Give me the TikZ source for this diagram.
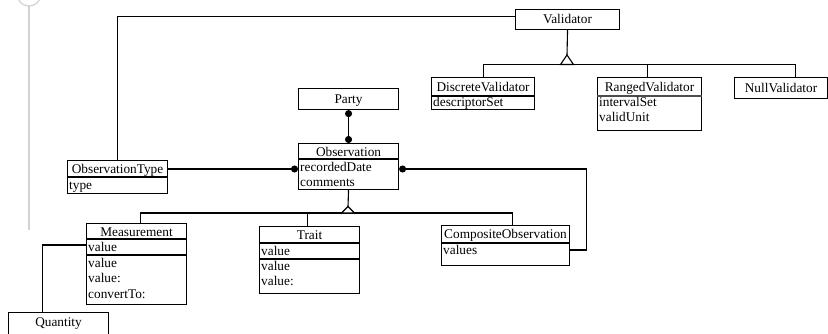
\documentclass[tikz,border=0pt]{standalone}
\usepackage{fontspec}
\setmainfont{Liberation Serif}
\usetikzlibrary{arrows.meta}
\begin{document}
\begin{tikzpicture}[x=1pt,y=-1pt,
  box/.style={draw, line width=1.1pt, fill=white, inner sep=0pt, anchor=north west},
  lbl/.style={inner sep=0pt, font=\rmfamily\fontsize{13.3}{15}\selectfont, text height=9pt, text depth=1pt},
  attr/.style={lbl, anchor=west},
  sep/.style={draw, line width=1.1pt},
  conn/.style={draw, line width=1.1pt},
  dot/.tip={Circle[length=7pt,width=7pt]},
  tri/.style={draw, line width=1.1pt, fill=white}]
\useasboundingbox (0,0) rectangle (828,333);
% decorative gray margin mark
\draw[gray!35, line width=1.2pt] (29,-6) circle (12);
\draw[gray!35, line width=1.5pt] (29,6) -- (29,230);

% ---- boxes ----
\node[box, minimum width=104pt, minimum height=20pt] (validator) at (515,9) {};
\node[lbl] at (validator.center) {Validator};

\node[box, minimum width=103pt, minimum height=32pt] (discrete) at (431,77) {};
\node[lbl] at ([yshift=-10pt]discrete.north) {DiscreteValidator};
\draw[sep] ([yshift=-19pt]discrete.north west) -- ([yshift=-19pt]discrete.north east);
\node[attr] at ([xshift=2pt,yshift=-25pt]discrete.north west) {descriptorSet};

\node[box, minimum width=104pt, minimum height=53pt] (ranged) at (597,77) {};
\node[lbl] at ([yshift=-10pt]ranged.north) {RangedValidator};
\draw[sep, line width=1.4pt, black!70] ([yshift=-19pt]ranged.north west) -- ([yshift=-19pt]ranged.north east);
\node[attr] at ([xshift=2pt,yshift=-25pt]ranged.north west) {intervalSet};
\node[attr] at ([xshift=2pt,yshift=-40pt]ranged.north west) {validUnit};

\node[box, minimum width=93pt, minimum height=21pt] (nullv) at (734,77) {};
\node[lbl] at (nullv.center) {NullValidator};

\node[box, minimum width=100pt, minimum height=21pt] (party) at (298,88) {};
\node[lbl] at (party.center) {Party};

\node[box, minimum width=100pt, minimum height=46pt] (obs) at (298,143) {};
\node[lbl] at ([yshift=-9pt]obs.north) {Observation};
\draw[sep] ([yshift=-16pt]obs.north west) -- ([yshift=-16pt]obs.north east);
\node[attr] at ([xshift=2pt,yshift=-24pt]obs.north west) {recordedDate};
\node[attr] at ([xshift=2pt,yshift=-39pt]obs.north west) {comments};

\node[box, minimum width=100pt, minimum height=33pt] (otype) at (67,160) {};
\node[lbl] at ([yshift=-9pt]otype.north) {ObservationType};
\draw[sep] ([yshift=-17pt]otype.north west) -- ([yshift=-17pt]otype.north east);
\node[attr] at ([xshift=2pt,yshift=-25pt]otype.north west) {type};

\node[box, minimum width=100pt, minimum height=81pt] (meas) at (86,223) {};
\node[lbl] at ([yshift=-9pt]meas.north) {Measurement};
\draw[sep] ([yshift=-16pt]meas.north west) -- ([yshift=-16pt]meas.north east);
\node[attr] at ([xshift=2pt,yshift=-24pt]meas.north west) {value};
\draw[sep] ([yshift=-32pt]meas.north west) -- ([yshift=-32pt]meas.north east);
\node[attr] at ([xshift=2pt,yshift=-40pt]meas.north west) {value};
\node[attr] at ([xshift=2pt,yshift=-55pt]meas.north west) {value:};
\node[attr] at ([xshift=2pt,yshift=-71pt]meas.north west) {convertTo:};

\node[box, minimum width=100pt, minimum height=67pt] (trait) at (259,226) {};
\node[lbl] at ([yshift=-9pt]trait.north) {Trait};
\draw[sep] ([yshift=-17pt]trait.north west) -- ([yshift=-17pt]trait.north east);
\node[attr] at ([xshift=2pt,yshift=-25pt]trait.north west) {value};
\draw[sep] ([yshift=-33pt]trait.north west) -- ([yshift=-33pt]trait.north east);
\node[attr] at ([xshift=2pt,yshift=-40pt]trait.north west) {value};
\node[attr] at ([xshift=2pt,yshift=-55pt]trait.north west) {value:};

\node[box, minimum width=128pt, minimum height=40pt] (comp) at (441,225) {};
\node[lbl] at ([yshift=-9pt]comp.north) {CompositeObservation};
\draw[sep] ([yshift=-18pt]comp.north west) -- ([yshift=-18pt]comp.north east);
\node[attr] at ([xshift=2pt,yshift=-25pt]comp.north west) {values};

\node[box, minimum width=100pt, minimum height=30pt] (qty) at (8,312) {};
\node[lbl] at ([yshift=-10pt]qty.north) {Quantity};

% ---- connectors ----
% ObservationType -- Validator
\draw[conn] (otype.north) |- ([yshift=3pt]validator.west);
% Validator generalisation
\coordinate (vtri) at (567,55);
\coordinate (vbus) at (567,64.5);
\draw[conn] (validator.south) -- (vtri);
\draw[conn] (discrete.north) |- (vbus) -| ([xshift=14pt]nullv.north);
\draw[conn] ([xshift=-2pt]ranged.north) -- ([xshift=-2pt]ranged.north |- vbus);
\draw[tri] (vtri) -- ([xshift=6.5pt]vbus) -- ([xshift=-6.5pt]vbus) -- cycle;
% Party -- Observation
\draw[conn, {dot}-{dot}] (party.south) -- (obs.north);
% ObservationType -- Observation
\draw[conn, -{dot}] ([yshift=-9pt]otype.north east) -- ([yshift=-26pt]obs.north west);
% Observation -- CompositeObservation
\draw[conn, {dot}-] ([yshift=-26pt]obs.north east) -- ++(187,0) |- ([yshift=-25pt]comp.north east);
% Observation generalisation
\coordinate (otri) at (348,206.5);
\coordinate (obus) at (348,213);
\draw[conn] (obs.south) -- (otri);
\draw[conn] ([xshift=4pt]meas.north) |- (obus) -| ([xshift=7pt]comp.north);
\draw[conn] ([xshift=-2pt]trait.north) -- ([xshift=-2pt]trait.north |- obus);
\draw[tri] (otri) -- ([xshift=6.5pt]obus) -- ([xshift=-6.5pt]obus) -- cycle;
% Measurement -- Quantity
\draw[conn] ([yshift=-22pt]meas.north west) -| ([xshift=-16pt]qty.north);
\end{tikzpicture}
\end{document}
